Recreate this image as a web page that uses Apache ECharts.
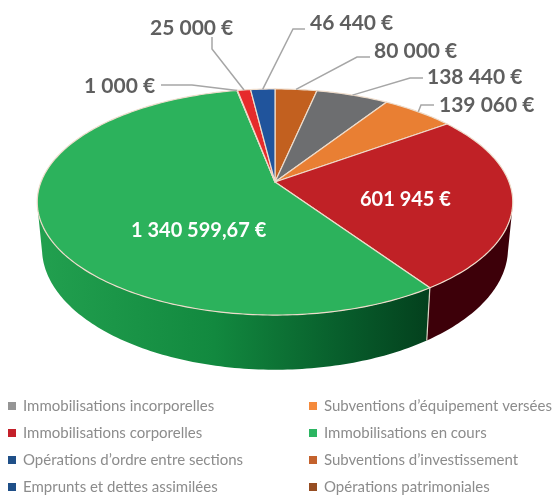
<!DOCTYPE html>
<html>
<head>
<meta charset="utf-8">
<style>
html,body{margin:0;padding:0;background:#fff;}
#main{width:560px;height:497px;}
</style>
<script src="https://cdn.jsdelivr.net/npm/echarts@6/dist/echarts.min.js"></script>
</head>
<body>
<div id="main"></div>
<script>
// clockwise from 12 o'clock
var categories = ["Subventions d’investissement", "Immobilisations incorporelles", "Subventions d’équipement versées", "Immobilisations corporelles", "Immobilisations en cours", "Opérations patrimoniales", "Emprunts et dettes assimilées", "Opérations d’ordre entre sections"];
var sliceValues = [80000, 138440, 139060, 601945, 1340599.67, 1000, 25000, 46440];
var sliceColors = ["#c2601f", "#6d6e70", "#e97f33", "#c02126", "#2cb25c", "#8b3a1c", "#e62b2b", "#20549c"];
var legendColors = ["#c4622d", "#959595", "#f58a3c", "#c4202a", "#2cb562", "#964d22", "#1f4f88", "#1f4f88"];
var legendLeft = ["Immobilisations incorporelles", "Immobilisations corporelles", "Opérations d’ordre entre sections", "Emprunts et dettes assimilées"];
var legendRight = ["Subventions d’équipement versées", "Immobilisations en cours", "Subventions d’investissement", "Opérations patrimoniales"];

var total = sliceValues.reduce(function (a, b) { return a + b; }, 0);
var pieX = 275, pieY = 182, pieA = 234, pieB = 109.5, pieK = 0.177, pieDepth = 45;

// leader line elbow and label spot, by slice. no line = white label inside
var labelSpots = {
    0: {x: 374, y: 51, line: [[370, 57], [357, 57]]},
    1: {x: 427, y: 77, line: [[423, 78], [410, 78]]},
    2: {x: 439, y: 105, line: [[434, 105], [421, 105]]},
    3: {x: 360, y: 200},
    4: {x: 131, y: 231},
    5: {x: 84, y: 86, line: [[161, 85], [192, 85]]},
    6: {x: 150, y: 28, line: [[212, 37], [212, 49]]},
    7: {x: 310, y: 23, line: [[305, 29], [293, 29]]}
};

function project(deg, drop) {
    var t = deg * Math.PI / 180;
    var u = Math.sin(t), v = Math.cos(t), w = 1 + pieK * v;
    var shrink = drop ? 0.98 : 1;
    return [
        pieX + shrink * pieA * u / w,
        pieY - pieB * v / w + (drop ? pieDepth / w : 0)
    ];
}

function formatValue(val) {
    var parts = String(val).split(".");
    var txt = parts[0].replace(/\B(?=(\d{3})+$)/g, " ");
    return txt + (parts[1] ? "," + parts[1] : "") + " €";
}

function arcPoints(a1, a2, drop) {
    var pts = [], n = Math.max(1, Math.ceil((a2 - a1)));
    for (var i = 0; i <= n; i++) {
        pts.push(project(a1 + (a2 - a1) * i / n, drop));
    }
    return pts;
}

function renderSlice(params, api) {
    var idx = params.seriesIndex;
    var before = 0;
    for (var i = 0; i < idx; i++) before += sliceValues[i];
    var a1 = before / total * 360;
    var a2 = (before + api.value(0)) / total * 360;
    var mid = (a1 + a2) / 2;
    var children = [];

    // rim, front part only
    var s1 = Math.max(a1, 102), s2 = Math.min(a2, 258);
    if (s2 > s1) {
        var fill = sliceColors[idx];
        if (idx == 3) fill = "#3d0009";
        if (idx == 4) {
            fill = new echarts.graphic.LinearGradient(0, 0, 1, 0, [
                {offset: 0, color: "#22a04f"},
                {offset: 0.45, color: "#12893f"},
                {offset: 0.8, color: "#075a2a"},
                {offset: 1, color: "#03401d"}
            ]);
        }
        children.push({
            type: "polygon",
            shape: {points: arcPoints(s1, s2, false).concat(arcPoints(s1, s2, true).reverse())},
            style: {fill: fill}
        });
        if (idx == 4) {
            children.push({
                type: "line",
                shape: {
                    x1: project(a1, false)[0], y1: project(a1, false)[1],
                    x2: project(a1, true)[0], y2: project(a1, true)[1]
                },
                style: {stroke: "#d9d3c4", lineWidth: 1.2}
            });
        }
    }

    // top face
    children.push({
        type: "polygon",
        shape: {points: [[pieX, pieY]].concat(arcPoints(a1, a2, false))},
        style: {fill: sliceColors[idx], stroke: "#eedccb", lineWidth: 1.2, lineJoin: "round"}
    });

    var spot = labelSpots[idx];
    if (spot.line) {
        children.push({
            type: "polyline",
            shape: {points: spot.line.concat([project(mid, false)])},
            style: {fill: null, stroke: "#a6a6a6", lineWidth: 1.5}
        });
    }
    children.push({
        type: "text",
        x: spot.x,
        y: spot.y,
        style: {
            text: formatValue(api.value(0)),
            fill: spot.line ? "#5f5f5f" : "#ffffff",
            font: spot.line ? "bold 21px Lato" : "bold 20px Lato",
            verticalAlign: "middle"
        }
    });
    return {type: "group", children: children};
}

var series = categories.map(function (name, i) {
    return {
        name: name,
        type: "custom",
        coordinateSystem: "none",
        renderItem: renderSlice,
        itemStyle: {color: legendColors[i]},
        data: [[sliceValues[i]]],
        silent: true,
        animation: false
    };
});

function makeLegend(names, left) {
    return {
        data: names,
        left: left,
        top: 398,
        orient: "vertical",
        icon: "rect",
        itemWidth: 8,
        itemHeight: 8,
        itemGap: 11,
        padding: 0,
        selectedMode: false,
        textStyle: {color: "#8c8c8c", fontFamily: "Lato", fontSize: 15, lineHeight: 16, padding: [0, 0, 0, 2]}
    };
}

var chart = echarts.init(document.getElementById("main"));
var option = {
    backgroundColor: "#ffffff",
    animation: false,
    legend: [makeLegend(legendLeft, 8), makeLegend(legendRight, 309)],
    series: series
};
chart.setOption(option);
</script>
</body>
</html>
